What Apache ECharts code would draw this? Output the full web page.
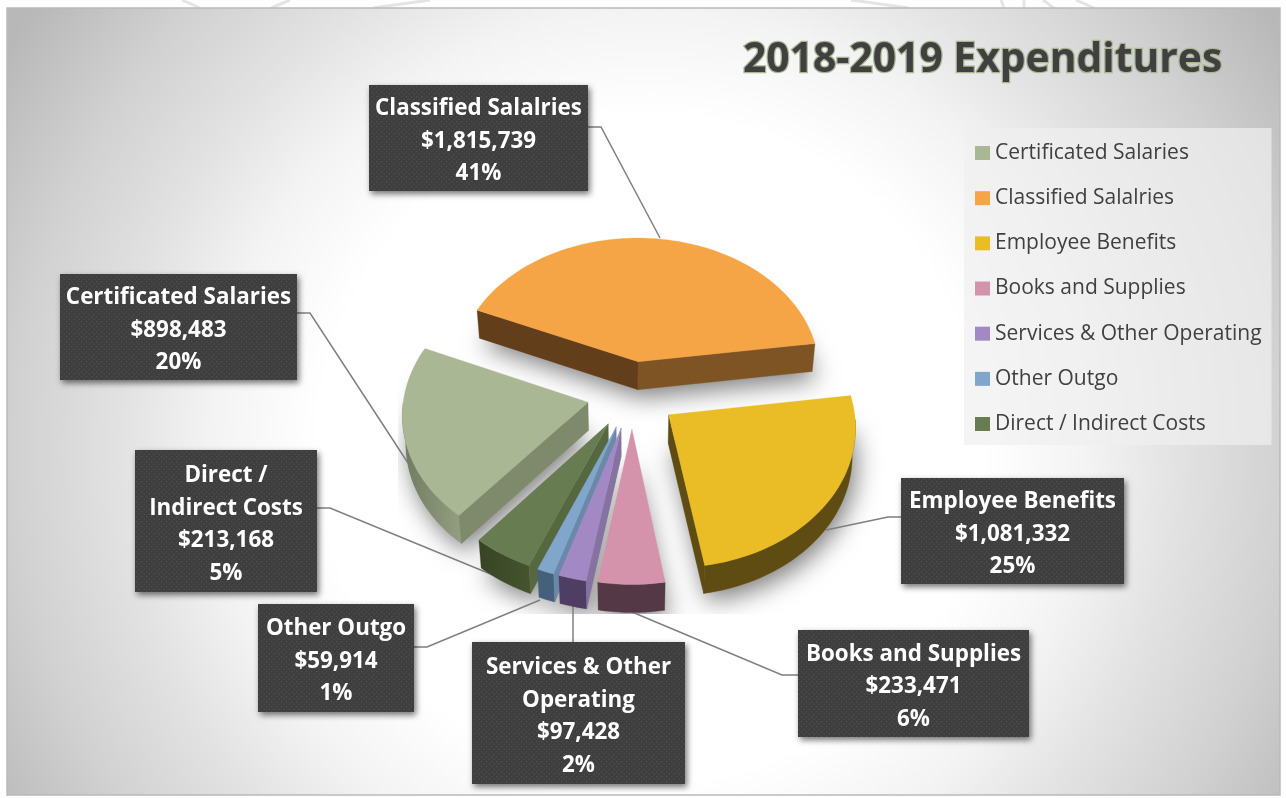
<!DOCTYPE html>
<html><head><meta charset="utf-8">
<style>html,body{margin:0;padding:0;background:#fff}#c{width:1286px;height:798px}</style>
<script src="https://cdn.jsdelivr.net/npm/echarts@6/dist/echarts.min.js"></script>
</head><body><div id="c"></div>
<script>
// ---- data ----
const categories = ['Certificated Salaries','Classified Salalries','Employee Benefits','Books and Supplies','Services & Other Operating','Other Outgo','Direct / Indirect Costs'];
const values = [898483,1815739,1081332,233471,97428,59914,213168];
const percents = ['20%','41%','25%','6%','2%','1%','5%'];
const labelNames = ['Certificated Salaries','Classified Salalries','Employee Benefits','Books and Supplies','Services & Other\nOperating','Other Outgo','Direct /\nIndirect Costs'];
// ---- styles ----
const topColors = ['#a9b795','#f6a546','#eabd26','#d493aa','#a389c4','#80a6cb','#677c50'];
const startCutColors = ['#7f8a6c','#623e1b','#5f4c12','#553845','#8672a0','#6a88a8','#56683f'];
const endCutColors = ['#7f8a6c','#7f5425','#5f4c12','#553845','#8672a0','#6a88a8','#56683f'];
const outerColors = [['#6f7a5f','#949f82'],['#7f5425','#7f5425'],['#5f4c12','#5f4c12'],['#553845','#553845'],['#4e3e63','#4e3e63'],['#45607a','#45607a'],['#364424','#46552f']];
// ---- layout: label boxes [x0,y0,x1,y1] and leader lines ----
const boxes = [[60,274,297,380],[369,85,588,191],[901,478,1124,584],[798,630,1029,737],[472,642,685,784],[258,604,414,712],[135,450,317,592]];
const leaders = [[[297,313],[310,313],[408,463]],[[588,127],[601,127],[660,238]],[[901,517],[888,517],[826,530]],[[798,675],[782,675],[632,612]],[[573,642],[573,606]],[[414,647],[427,647],[540,600]],[[317,508],[330,508],[505,580]]];
const watermark = [[[182,0],[200,8]],[[290,0],[271,8]],[[373,8],[430,0]],[[851,0],[909,8]],[[1001,0],[1004,8]],[[1024,0],[1024,8]],[[1043,0],[1054,8]],[[1094,8],[1076,0]]];
const CX=632, CY=394.5, R=184, EXPLODE=45, TILT=0.75, PERSP=0.096, DEPTH=28, START=220;

const total = values.reduce((a,b)=>a+b,0);
const angles = []; { let a=START; values.forEach(v=>{const d=v/total*360; angles.push([a,a+d]); a+=d;}); }
const rad = d=>d*Math.PI/180;
function proj(X,Y,low){
  const s=1/(1-PERSP*Y/(R+EXPLODE));
  let x=CX+X*s, y=CY+Y*TILT*s;
  if(low){ x=CX+(x-CX)*0.985; y+=DEPTH; }
  return [x,y];
}
function sliceGeom(i){
  const [a0,a1]=angles[i], m=rad((a0+a1)/2);
  const ox=EXPLODE*Math.sin(m), oy=-EXPLODE*Math.cos(m);
  const steps=Math.max(6,Math.ceil((a1-a0)/2));
  const arcT=[],arcB=[],front=[];
  for(let k=0;k<=steps;k++){
    const t=rad(a0+(a1-a0)*k/steps);
    const X=ox+R*Math.sin(t),Y=oy-R*Math.cos(t);
    arcT.push(proj(X,Y,false));arcB.push(proj(X,Y,true));
    if(Math.cos(t)<0) front.push(k);
  }
  return {tipT:proj(ox,oy,false),tipB:proj(ox,oy,true),arcT,arcB,front,a0,a1};
}
const dot=document.createElement('canvas');dot.width=10;dot.height=10;
{const g=dot.getContext('2d');g.fillStyle='#3e3e3e';g.fillRect(0,0,10,10);g.fillStyle='#4e4e4e';
 [[1,1],[6,1],[3.5,3.5],[8.5,3.5],[1,6],[6,6],[3.5,8.5],[8.5,8.5]].forEach(p=>g.fillRect(p[0],p[1],1.4,1.4));}
const FONT='"Open Sans","Noto Sans",sans-serif';

function renderSlice(i){
  const g=sliceGeom(i), kids=[];
  const base=10+ (g.tipT[1]-300)/10;
  const last=g.arcT.length-1;
  kids.push({type:'polygon',z2:1,silent:true,shape:{points:[g.tipB,...g.arcB]},
    style:{fill:'#999',shadowBlur:24,shadowColor:'rgba(0,0,0,0.5)',shadowOffsetX:4,shadowOffsetY:8},
    clipPath:{type:'rect',shape:{x:398,y:200,width:490,height:414}}});
  const poly=(pts,fill,z)=>kids.push({type:'polygon',z2:z,shape:{points:pts},style:{fill,stroke:fill,lineWidth:0.3}});
  // only the faces turned toward the viewer are drawn
  if(g.front.length>1){
    const ft=g.front.map(k=>g.arcT[k]), fb=g.front.map(k=>g.arcB[k]).reverse();
    poly([...ft,...fb],{type:'linear',x:0,y:0,x2:1,y2:0,colorStops:[{offset:0,color:outerColors[i][0]},{offset:1,color:outerColors[i][1]}]},base);
  }
  if(-Math.cos(rad(g.a0-90))>0) poly([g.tipT,g.arcT[0],g.arcB[0],g.tipB],startCutColors[i],base+0.1);
  if(-Math.cos(rad(g.a1+90))>0) poly([g.tipT,g.arcT[last],g.arcB[last],g.tipB],endCutColors[i],base+0.1);
  poly([g.tipT,...g.arcT],topColors[i],base+1);
  kids.push({type:'polyline',z2:5,silent:true,shape:{points:leaders[i]},style:{fill:null,stroke:'#7f7f7f',lineWidth:1.5}});
  const b=boxes[i];
  kids.push({type:'rect',z2:60,shape:{x:b[0],y:b[1],width:b[2]-b[0],height:b[3]-b[1]},
    style:{fill:{image:dot,repeat:'repeat'},shadowBlur:6,shadowColor:'rgba(0,0,0,0.55)',shadowOffsetX:2,shadowOffsetY:3}});
  const text=labelNames[i]+'\n$'+values[i].toLocaleString('en-US')+'\n'+percents[i];
  kids.push({type:'text',z2:61,style:{text,x:(b[0]+b[2])/2,y:(b[1]+b[3])/2+3.5,align:'center',verticalAlign:'middle',fill:'#fff',
    font:'bold 22.4px '+FONT,lineHeight:32.5}});
  return {type:'group',children:kids};
}
const series=categories.map((name,i)=>({
  type:'custom',name,coordinateSystem:'none',data:[values[i]],
  itemStyle:{color:topColors[i]},animation:false,
  renderItem:()=>renderSlice(i)
}));
const chart=echarts.init(document.getElementById('c'),null,{renderer:'canvas'});
chart.setOption({
  animation:false,
  tooltip:{show:false},
  graphic:[{type:'rect',z:-10,silent:true,shape:{x:7,y:8,width:1273,height:787},
    style:{stroke:'#b9b9b9',lineWidth:1.5,fill:{type:'radial',x:0.505,y:0.56,r:0.96,colorStops:[
      {offset:0,color:'#ffffff'},{offset:0.44,color:'#ffffff'},{offset:0.58,color:'#f3f3f3'},{offset:0.7,color:'#e2e2e2'},{offset:0.84,color:'#d1d1d1'},{offset:1,color:'#b8b8b8'}]}}}]
    .concat(watermark.map(p=>({type:'polyline',z:-11,silent:true,shape:{points:p},style:{fill:null,stroke:'#e4e4e4',lineWidth:3}}))),
  title:{text:'2018-2019 Expenditures',left:743,top:40,padding:0,
    textStyle:{color:'#404040',fontFamily:FONT,fontWeight:'bold',fontSize:40.8,textBorderColor:'#a9b795',textBorderWidth:2.5}},
  legend:{orient:'vertical',left:964,top:128,padding:[14,10,10,11],itemWidth:15,itemHeight:14,itemGap:23.17,
    backgroundColor:'rgba(240,240,240,0.7)',icon:'rect',selectedMode:false,data:categories,
    textStyle:{color:'#404040',fontFamily:FONT,fontSize:21,lineHeight:22}},
  series
});
</script></body></html>
